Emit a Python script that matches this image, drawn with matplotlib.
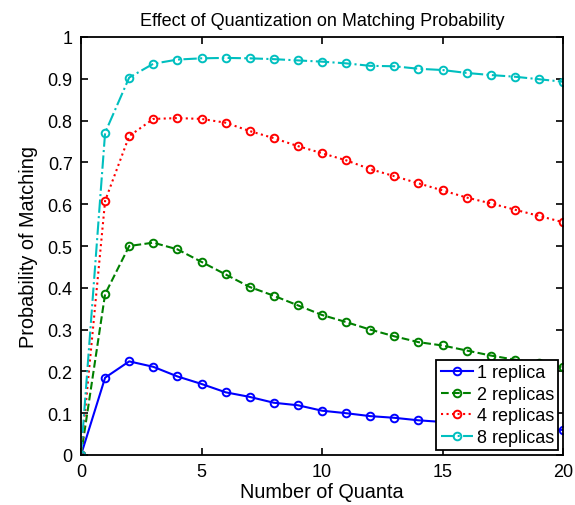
import numpy as np
import matplotlib.pyplot as plt

plt.rcParams['font.family'] = ['Liberation Sans', 'DejaVu Sans']

# Data
quanta = np.arange(0, 21)
p_1 = [0, 0.185, 0.224, 0.211, 0.188, 0.170, 0.150, 0.139, 0.125, 0.119, 0.106,
       0.100, 0.093, 0.089, 0.083, 0.079, 0.075, 0.071, 0.067, 0.063, 0.060]
p_2 = [0, 0.385, 0.500, 0.508, 0.492, 0.462, 0.432, 0.402, 0.381, 0.358, 0.335,
       0.318, 0.300, 0.284, 0.270, 0.262, 0.250, 0.238, 0.228, 0.219, 0.210]
p_4 = [0, 0.608, 0.763, 0.804, 0.806, 0.804, 0.795, 0.775, 0.758, 0.739, 0.722,
       0.705, 0.684, 0.667, 0.650, 0.633, 0.616, 0.602, 0.587, 0.572, 0.557]
p_8 = [0, 0.771, 0.903, 0.936, 0.946, 0.949, 0.950, 0.949, 0.947, 0.944, 0.941,
       0.937, 0.931, 0.930, 0.924, 0.921, 0.914, 0.909, 0.905, 0.899, 0.893]

fig = plt.figure(figsize=(5.75, 5.06), dpi=100)
ax = fig.add_axes([81 / 575, 1 - 456 / 506, (563 - 81) / 575, (456 - 38) / 506])

mk = dict(marker='o', markersize=5.5, markerfacecolor='none', markeredgewidth=1.4)
ax.plot(quanta, p_1, '-', color=(0, 0, 1), lw=1.5, label='1 replica', **mk)
ax.plot(quanta, p_2, '--', color=(0, 0.5, 0), lw=1.5, label='2 replicas', **mk)
ax.plot(quanta, p_4, ':', color=(1, 0, 0), lw=1.5, label='4 replicas', **mk)
ax.plot(quanta, p_8, '-.', color=(0, 0.75, 0.75), lw=1.5, label='8 replicas', **mk)

ax.set_xlim(0, 20)
ax.set_ylim(0, 1)
ax.set_xticks([0, 5, 10, 15, 20])
ax.set_yticks(np.arange(0, 1.01, 0.1))
ax.set_yticklabels(['0', '0.1', '0.2', '0.3', '0.4', '0.5', '0.6', '0.7', '0.8', '0.9', '1'])
ax.tick_params(direction='in', top=True, right=True, labelsize=13, length=5, width=1.2, pad=6)
for s in ax.spines.values():
    s.set_linewidth(1.3)

ax.set_xlabel('Number of Quanta', fontsize=14.3, labelpad=1)
ax.set_ylabel('Probability of Matching', fontsize=14.3, labelpad=7)
ax.set_title('Effect of Quantization on Matching Probability', fontsize=13, pad=9)

leg = ax.legend(loc='lower right', fontsize=13, fancybox=False, framealpha=1,
                edgecolor='black', borderpad=0.25, labelspacing=0.25,
                handlelength=1.8, handletextpad=0.2, borderaxespad=0.25)
leg.get_frame().set_linewidth(1.3)

fig.savefig('out.png', dpi=100)
